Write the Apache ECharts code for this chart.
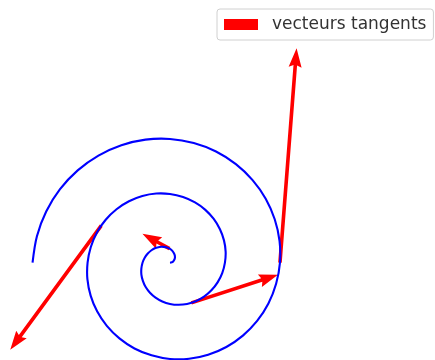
<!DOCTYPE html>
<html>
<head>
<meta charset="utf-8">
<script src="https://cdn.jsdelivr.net/npm/echarts@6/dist/echarts.min.js"></script>
<style>
  html, body { margin: 0; padding: 0; background: #fff; }
  #chart { width: 435px; height: 360px; }
</style>
</head>
<body>
<div id="chart"></div>
<script>
// spiral points (x, y in data units), centre outwards
const spiralX = [0, 0.19, 0.36, 0.49, 0.56, 0.55, 0.45, 0.27, 0, -0.34, -0.75, -1.2,
  -1.67, -2.12, -2.54, -2.89, -3.14, -3.27, -3.27, -3.1, -2.78, -2.29, -1.65, -0.88,
  0, 0.96, 1.95, 2.95, 3.89, 4.73, 5.44, 5.97, 6.28, 6.36, 6.17, 5.71, 5.0, 4.04,
  2.86, 1.49, 0, -1.57, -3.16, -4.69, -6.11, -7.35, -8.35, -9.05, -9.42, -9.44,
  -9.07, -8.33, -7.22, -5.78, -4.06, -2.11, 0, 2.18, 4.36, 6.44, 8.33, 9.96, 11.25,
  12.13, 12.57, 12.52, 11.97, 10.94, 9.44, 7.53, 5.26, 2.72, 0, -2.8, -5.56, -8.18,
  -10.55, -12.57, -14.15, -15.21, -15.71];
const spiralY = [0, 0.04, 0.15, 0.33, 0.56, 0.82, 1.09, 1.35, 1.57, 1.73, 1.81, 1.8,
  1.67, 1.42, 1.05, 0.57, 0, -0.65, -1.35, -2.07, -2.78, -3.43, -3.99, -4.43,
  -4.71, -4.81, -4.72, -4.41, -3.89, -3.16, -2.25, -1.19, 0, 1.26, 2.55, 3.82, 5.0,
  6.04, 6.89, 7.51, 7.85, 7.9, 7.62, 7.02, 6.11, 4.91, 3.46, 1.8, 0, -1.88, -3.76,
  -5.56, -7.22, -8.65, -9.8, -10.59, -11.0, -10.98, -10.52, -9.63, -8.33, -6.65,
  -4.66, -2.41, 0, 2.49, 4.96, 7.31, 9.44, 11.26, 12.7, 13.67, 14.14, 14.06, 13.42,
  12.24, 10.55, 8.4, 5.86, 3.03, 0];

// tangent vectors: tail position and components
const arrowX = [-0.05, 2.44, -7.86, 12.57];
const arrowY = [1.6, -4.59, 4.24, 0];
const arrowU = [-3.1, 9.9, -10.4, 1.9];
const arrowV = [1.7, 3.2, -14.2, 24.5];

const legendName = 'vecteurs tangents';

const spiralData = spiralX.map((x, i) => [x, spiralY[i]]);
const arrowData = arrowX.map((x, i) => [x, arrowY[i], arrowU[i], arrowV[i]]);

const chart = echarts.init(document.getElementById('chart'));

// the line series clamps its smoothing, so the spiral is one smoothed polyline
function renderSpiral(params, api) {
  if (params.dataIndex !== 0) return null;
  return {
    type: 'polyline',
    shape: { points: spiralData.map(p => api.coord(p)), smooth: 0.33 },
    style: { stroke: 'blue', lineWidth: 2.1, fill: null, lineJoin: 'round' }
  };
}

// quiver-like arrow: shaft + notched head, built in pixel space from the axes
function renderArrow(params, api) {
  const x = api.value(0), y = api.value(1);
  const p0 = api.coord([x, y]);
  const p1 = api.coord([x + api.value(2), y + api.value(3)]);
  const dx = p1[0] - p0[0], dy = p1[1] - p0[1];
  const len = Math.sqrt(dx * dx + dy * dy);
  const ux = dx / len, uy = dy / len;
  const nx = -uy, ny = ux;
  const w = 1.8, hw = 6.5, hl = 19, hal = 17;
  const at = (d, s) => [p0[0] + ux * d + nx * s, p0[1] + uy * d + ny * s];
  return {
    type: 'polygon',
    shape: {
      points: [at(0, w), at(len - hal, w), at(len - hl, hw), p1,
        at(len - hl, -hw), at(len - hal, -w), at(0, -w)]
    },
    style: { fill: 'red' }
  };
}

chart.setOption({
  animation: false,
  backgroundColor: '#fff',
  grid: { left: 0, right: 0, top: 0, bottom: 0 },
  xAxis: { type: 'value', min: -19.43, max: 30.29, show: false },
  yAxis: { type: 'value', min: -11.12, max: 30.02, show: false },
  legend: {
    data: [{ name: legendName, icon: 'rect' }],
    left: 217,
    top: 9,
    itemWidth: 34,
    itemHeight: 11,
    padding: [7, 7, 7, 7],
    borderColor: '#d0d0d0',
    borderWidth: 1,
    borderRadius: 3,
    backgroundColor: '#fff',
    textStyle: {
      fontFamily: 'DejaVu Sans',
      fontSize: 17,
      color: '#333',
      padding: [0, 0, 0, 9]
    }
  },
  series: [
    {
      name: legendName,
      type: 'custom',
      renderItem: renderArrow,
      data: arrowData,
      itemStyle: { color: 'red' },
      z: 1
    },
    {
      name: 'spirale',
      type: 'custom',
      renderItem: renderSpiral,
      data: spiralData,
      z: 2
    }
  ]
});
</script>
</body>
</html>
